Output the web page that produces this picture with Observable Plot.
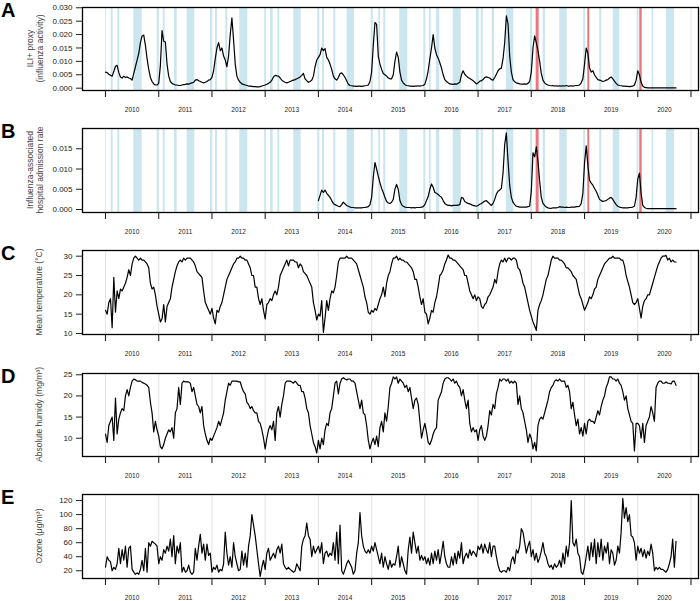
<!DOCTYPE html>
<html><head><meta charset="utf-8">
<script src="https://cdn.jsdelivr.net/npm/d3@7"></script>
<script src="https://cdn.jsdelivr.net/npm/@observablehq/plot@0.6"></script>
<style>
body{margin:0;background:#fff;}
#chart{position:relative;width:700px;height:601px;overflow:hidden;}
#chart svg{position:absolute;left:0;}
</style></head><body><div id="chart"></div>
<script>
// ---- data ----
const SAMPLES_PER_YEAR = 32;   // series sampled every 1/32 year
const seriesStart = 2010;
const admissionStart = 2014;

const yearTicks = [2010,2011,2012,2013,2014,2015,2016,2017,2018,2019,2020,2021];
const yearLabels = ["2010","2011","2012","2013","2014","2015","2016","2017","2018","2019","2020"];

// school holidays (decimal years)
const holidays = [
 [2010.107,2010.143],[2010.231,2010.269],[2010.532,2010.689],
 [2010.971,2011.009],[2011.084,2011.122],[2011.296,2011.347],[2011.535,2011.678],
 [2011.973,2012.010],[2012.067,2012.104],[2012.260,2012.298],[2012.523,2012.673],
 [2012.993,2013.025],[2013.100,2013.150],[2013.237,2013.274],[2013.537,2013.676],
 [2013.988,2014.026],[2014.077,2014.114],[2014.289,2014.327],[2014.541,2014.678],
 [2014.992,2015.029],[2015.134,2015.166],[2015.228,2015.266],[2015.529,2015.679],
 [2015.980,2016.012],[2016.087,2016.119],[2016.218,2016.280],[2016.532,2016.683],
 [2016.970,2017.020],[2017.058,2017.096],[2017.265,2017.308],[2017.533,2017.671],
 [2017.984,2018.022],[2018.223,2018.266],[2018.535,2018.674],
 [2018.985,2019.017],[2019.286,2019.324],[2019.538,2019.662],
 [2019.988,2020.018],[2020.270,2020.300],[2020.539,2020.689]
];
// school closures / early holidays (red)
const closures = [[2018.091,2018.147],[2019.061,2019.098],[2020.038,2020.083]];

const iliValues = [
.0060,.0058,.0052,.0048,.0045,.0062,.0082,.0085,.0058,.0042,
.0038,.0045,.0040,.0042,.0038,.0036,.0030,.0055,.0080,.0105,
.0130,.0170,.0195,.0198,.0160,.0110,.0070,.0040,.0025,.0016,
.0012,.0012,.0018,.0085,.0215,.0175,.0172,.0090,.0045,.0025,
.0018,.0015,.0012,.0012,.0010,.0010,.0012,.0013,.0014,.0016,
.0015,.0018,.0020,.0022,.0030,.0032,.0028,.0025,.0022,.0020,
.0022,.0025,.0030,.0032,.0040,.0065,.0110,.0150,.0170,.0140,
.0150,.0120,.0105,.0080,.0120,.0200,.0262,.0180,.0090,.0045,
.0030,.0022,.0016,.0014,.0012,.0010,.0008,.0008,.0007,.0006,
.0006,.0005,.0005,.0006,.0008,.0010,.0012,.0015,.0018,.0022,
.0030,.0042,.0048,.0046,.0045,.0038,.0030,.0025,.0022,.0020,
.0022,.0025,.0028,.0030,.0032,.0035,.0038,.0042,.0048,.0055,
.0035,.0028,.0022,.0025,.0030,.0045,.0080,.0105,.0115,.0125,
.0150,.0140,.0148,.0115,.0105,.0090,.0070,.0045,.0035,.0030,
.0040,.0055,.0057,.0050,.0040,.0028,.0015,
.0010,.0009,.0008,.0008,.0007,.0008,.0008,.0007,.0008,.0009,
.0010,.0012,.0025,.0060,.0160,.0245,.0238,.0120,.0090,.0070,
.0055,.0050,.0045,.0038,.0035,.0035,.0050,.0100,.0135,.0115,
.0060,.0030,.0020,.0013,.0010,.0009,.0008,.0008,.0007,.0008,
.0008,.0009,.0008,.0009,.0010,.0015,.0035,.0065,.0110,.0150,
.0200,.0150,.0125,.0112,.0095,.0075,.0050,.0032,.0025,.0020,
.0016,.0015,.0014,.0016,.0015,.0018,.0022,.0050,.0065,.0052,
.0045,.0040,.0036,.0032,.0028,.0022,.0016,.0020,.0026,.0028,
.0032,.0040,.0042,.0040,.0038,.0032,.0030,.0040,.0052,.0065,
.0072,.0075,.0110,.0170,.0270,.0240,.0120,.0060,.0032,.0024,
.0020,.0018,.0016,.0015,.0015,.0016,.0015,.0018,.0025,.0060,
.0150,.0195,.0170,.0140,.0100,.0055,.0030,.0020,.0014,.0012,
.0010,.0009,.0010,.0008,.0009,.0008,.0009,.0008,.0009,.0008,
.0010,.0008,.0008,.0009,.0008,.0009,.0010,.0010,.0012,.0020,
.0035,.0090,.0150,.0130,.0075,.0060,.0065,.0050,.0040,.0032,
.0030,.0028,.0025,.0027,.0030,.0032,.0038,.0042,.0035,.0026,
.0018,.0012,.0010,.0009,.0008,.0008,.0007,.0007,.0006,.0007,
.0008,.0012,.0030,.0065,.0050,.0022,.0008,.0003,.0002,
.0001,.0001,.0001,.0001,.0001,.0001,.0001,.0001,.0001,
.0001,.0001,.0001,.0001,.0001,.0001,.0001,.0001,.0001
];

const admissionValues = [
.0022,.0035,.0048,.0042,.0048,.0040,.0035,.0030,.0022,.0015,.0012,.0010,.0008,.0007,.0012,.0018,.0014,.0010,.0008,
.0006,.0005,.0005,.0004,.0004,.0004,.0004,.0004,.0005,.0005,
.0006,.0007,.0012,.0030,.0080,.0116,.0100,.0082,.0066,.0052,
.0042,.0030,.0020,.0016,.0015,.0018,.0025,.0050,.0062,.0050,
.0022,.0012,.0008,.0006,.0005,.0005,.0005,.0004,.0005,.0004,
.0005,.0005,.0005,.0006,.0007,.0012,.0022,.0032,.0050,.0063,
.0055,.0042,.0040,.0037,.0033,.0030,.0022,.0015,.0012,.0010,
.0010,.0009,.0010,.0010,.0010,.0011,.0012,.0030,.0028,.0020,
.0017,.0015,.0014,.0012,.0010,.0009,.0008,.0010,.0013,.0015,
.0018,.0021,.0022,.0018,.0014,.0010,.0015,.0025,.0038,.0045,
.0048,.0052,.0090,.0160,.0189,.0120,.0060,.0030,.0018,.0012,
.0008,.0007,.0006,.0006,.0006,.0006,.0006,.0007,.0008,.0045,
.0140,.0130,.0155,.0120,.0070,.0030,.0015,.0010,.0006,.0004,
.0003,.0003,.0004,.0004,.0004,.0005,.0007,.0006,.0006,.0005,
.0006,.0005,.0005,.0006,.0006,.0006,.0007,.0007,.0008,.0015,
.0040,.0115,.0157,.0110,.0072,.0065,.0060,.0052,.0045,.0035,
.0025,.0022,.0020,.0021,.0022,.0025,.0028,.0030,.0025,.0018,
.0012,.0008,.0006,.0005,.0004,.0004,.0004,.0004,.0005,.0005,
.0006,.0008,.0030,.0075,.0090,.0040,.0010,.0005,.0003,
.0002,.0002,.0002,.0002,.0002,.0002,.0002,.0002,.0002,
.0002,.0002,.0002,.0002,.0002,.0002,.0002,.0002,.0002
];

const temperatureValues = [
16,15,18,19,11.5,24.5,15.5,21,19,21.5,
21,22,23,24.5,26.5,25,28,29.5,30,29.5,
29,29.5,29,29,28.5,28,27,23,21.5,22,
20,17,15,13,13.8,17.5,13,17,18,19,
22,24,26,27.5,28.5,29,28.5,29.5,29,29.5,
29.5,29.5,29,28.5,27.5,26,25.5,25,24.5,21,
18,17,16,15,16.5,14,12.5,16,15.5,17,
18,20,22,24,25,26,27,28,28.5,29.5,
29.5,30,29.5,29.5,29,29,28,27,25,25,
22,22,19,17.5,19,16,13.8,17.5,18,19,
18.5,20,21,20,22,25,26,27,28,29,
27.5,29,29,29,28.5,28.5,27,28,27.5,26,
25.5,25,24,23,22,18,16,13.5,15,14.5,
18.5,10.3,14,18.5,16,19,21,20.5,22,25,
28.5,29.5,29.5,29.5,29.5,30,29.5,
29.5,29.5,29,28.5,28,26.5,25,23.5,22,19.5,
18,15.5,15,16,15.5,16.5,16,17.5,19,20,
22,19.5,23,25,26,28,29.5,29.5,30,29,
29.5,29,29,28.5,28.5,28,27.5,27,26,24,
24,22,19.5,17.5,19,15.5,15,12.5,14,16,
15.5,18,19.5,22,25,25.5,26.5,28,29,30.3,
29.5,29.5,29,29,28.5,28,27.5,27,26.5,25,
25,23,21,20,19,20,18.5,19.5,19,17,
16.5,17.5,18,19.5,20,21,22,24,23,26,
28,29,28.5,29.5,28.5,29.5,29.5,29,29.5,29.5,
29,27,26.5,25,23,22,20,18,16,14.5,
13,12,10.8,16,17.5,18.5,20,22,24,25,
27,29,30,29.5,29.5,29.5,29,29,28.5,28,
27,27,26.5,26,25,24.5,24,22,20,19,
17.5,16,17,18,19.5,19,20,21.5,22,24,
25,26,27,28,28.5,29,29.5,29.5,30,29.5,
29.5,29.5,29.5,29,29,27.5,25,23.5,22,20,
18,17.5,18,19,16.5,14,17,18.5,19,20,
20,21.5,23,24.5,26,27.5,28.5,29.5,30,30,
30.2,29,29.5,28.5,29,28.5,28.5
];

const humidityValues = [
11,9,13,14,15,9.5,19.5,11,14.5,16,
17,16.5,20,21.5,20,22,23.5,24,23.8,23.5,
23.5,23.5,23.2,23,22.8,22.5,22,18.5,16,11.5,
14,12,10.5,8,7.5,8.5,10,11,12,11.5,
12.5,10,16,17,22,18,23,23.5,23.3,23.3,
23.3,23,21,22,20,18,17.5,16,17.5,13,
11,9.5,8.5,10,9.5,10.5,11.5,12.5,14,13,
14.5,16,19,21,23,22.5,23.5,23.5,23.5,23.5,
23.3,23.3,22,21,20.5,18.5,18,17,17.5,16.5,
16,16,14,13.5,12,10,7.5,10,12,13,
12,14,9.5,16,17.5,15,18,20,23,23.5,
23.5,23.5,23.3,23,23.5,23,22.5,22.5,21,21,
19.5,17,16,13,11,9,8,6.5,9.5,7.5,
10,8.5,12,13.5,13,16,17,20,23,23.5,
20.5,23,24,24.3,24,23.8,24,
24,23.5,23.5,23,21,19,17,19,16,15.5,
13,9.5,7.5,9,10,8.5,10.5,8,12.5,14,
11.5,16,14,17.5,22,23,24.5,24,24.5,23,
24,23.5,23,22,22.5,21,22,19.5,17,19,
19.5,18,14,10,12,13.5,11.5,9,8.5,9.5,
11,12,12.5,19,20,21,23,24,24.3,24.3,
24,23.5,24,23,23.5,22.5,22,20,21.5,19,
17,19,13.5,11.5,12.5,11.5,12,9.5,12,13,
10.5,9.5,10.5,13,16.5,15.5,18,17,20.5,22,
24,23.5,24,24,23.5,24,23,23.5,23,23.5,
23,18,20,17,16,14,12,9,11,10,
7.5,9,7,13,14.5,15,14.5,16,17.5,19,
21,22,22.5,23.5,23.8,23.5,24,23.5,23.5,23.5,
22,22.5,21,17,18.5,15.5,13,14.5,11,12.5,
10.5,13.5,11,14,14.5,14,14,13.5,15,16.5,
15.5,17.5,19,20,22,23,24.5,24.5,24,24,
23.5,24,23,22.5,21,19,20,17,15.5,14,
13.5,7,13.5,13.5,13,10,13.5,9,13,14,
15,17.5,16,14,22,23,23.5,23.5,23,23,
23.3,23,23,22.8,23.5,23.5,22.5
];

const ozoneValues = [
25,40,35,33,20,25,22,30,52,30,
50,35,55,25,52,55,22,18,15,17,
15,22,35,20,52,18,60,55,62,60,
58,55,30,40,35,50,45,55,48,65,
40,70,30,55,45,60,18,25,18,20,
28,18,15,18,52,35,55,72,45,58,
35,58,42,45,18,25,22,28,18,22,
20,30,75,45,28,40,25,60,40,30,
20,22,48,28,45,25,55,70,100,85,
70,50,30,12,25,35,22,45,52,35,
40,45,38,50,55,45,58,30,25,22,
25,22,20,18,20,30,25,20,55,65,
70,88,70,65,40,55,45,50,55,45,
60,30,45,48,40,45,42,60,35,75,
30,85,20,15,22,30,35,
30,25,15,20,45,60,103,70,55,48,
45,50,45,55,48,60,50,40,30,45,
25,40,30,22,35,25,30,28,40,55,
25,40,30,20,15,50,68,45,75,60,
45,55,35,42,35,40,30,38,28,45,
30,48,35,50,30,45,62,40,30,25,
25,40,28,45,30,48,38,60,30,40,
45,38,50,42,48,45,40,55,50,58,
45,58,50,45,60,40,55,55,40,28,
20,18,20,20,18,25,20,35,40,30,
50,45,55,80,75,60,45,55,62,40,
50,35,45,32,38,48,60,45,40,30,
25,28,22,30,25,28,35,25,45,30,
55,40,60,120,60,55,65,45,40,18,
15,25,40,55,35,60,40,65,30,60,
40,65,35,55,45,60,30,50,45,28,
35,55,45,75,123,95,110,90,100,70,
68,60,35,55,45,52,40,50,38,48,
42,58,45,20,25,22,25,22,22,20,
18,22,30,40,65,25,62
];

// ---- helpers ----
const toSeries = (values, start) => values.map((v, i) => ({t: start + i / SAMPLES_PER_YEAR, v}));
const FONT = "'Liberation Sans', Arial, Helvetica, sans-serif";
const xDomain = [2009.568, 2021.141];
const MT = 10, MB = 30;

const panels = [
  {letter:"A", top:7, bottom:90, y:[-0.00086,0.0301], ticks:[0,0.005,0.01,0.015,0.02,0.025,0.03], fmt:d3.format(".3f"),
   title:["ILI+ proxy","(influenza activity)"], series:toSeries(iliValues, seriesStart), shade:true},
  {letter:"B", top:128, bottom:212, y:[-0.00074,0.0200], ticks:[0,0.005,0.01,0.015], fmt:d3.format(".3f"),
   title:["Influenza-associated","hospital admission rate"], series:toSeries(admissionValues, admissionStart), shade:true},
  {letter:"C", top:250, bottom:334, y:[9.74,31.47], ticks:[10,15,20,25,30], fmt:d3.format("d"),
   title:["Mean temperature (°C)"], series:toSeries(temperatureValues, seriesStart), shade:false},
  {letter:"D", top:373, bottom:456, y:[5.68,25.3], ticks:[10,15,20,25], fmt:d3.format("d"),
   title:["Absolute humidy (mg/m³)"], series:toSeries(humidityValues, seriesStart), shade:false},
  {letter:"E", top:494, bottom:578, y:[9,128.6], ticks:[20,40,60,80,100,120], fmt:d3.format("d"),
   title:["Ozone (μg/m³)"], series:toSeries(ozoneValues, seriesStart), shade:false}
];

const container = document.getElementById("chart");
for (const p of panels) {
  const h = p.bottom - p.top + MT + MB;
  const marks = [Plot.gridX(yearTicks, {stroke:"#e3e3e3", strokeOpacity:1, strokeWidth:1})];
  if (p.shade) {
    marks.push(Plot.rect(holidays, {x1: d => d[0], x2: d => d[1], fill:"#cbe6ef"}));
    marks.push(Plot.rect(closures, {x1: d => d[0], x2: d => d[1], fill:"#e8777f"}));
  }
  marks.push(
    Plot.line(p.series, {x:"t", y:"v", stroke:"#000", strokeWidth:1.2, strokeLinejoin:"round"}),
    Plot.frame({stroke:"#000", strokeWidth:1.3}),
    Plot.axisX(yearTicks, {tickSize:7, tickFormat:() => "", label:null, strokeWidth:1.1}),
    Plot.axisX(yearLabels.map(s => +s + 0.5), {tickSize:0, tickPadding:17, tickFormat:d => String(Math.floor(d)), label:null, fontSize:6.5}),
    Plot.axisY(p.ticks, {tickSize:6, tickPadding:4, tickFormat:p.fmt, label:null, fontSize:8, strokeWidth:1})
  );
  const svg = Plot.plot({
    width:700, height:h, marginTop:MT, marginBottom:MB, marginLeft:82, marginRight:2,
    x:{domain:xDomain}, y:{domain:p.y},
    style:{fontFamily:FONT, color:"#222", background:"transparent", overflow:"visible"},
    marks
  });
  svg.style.top = (p.top - MT) + "px";
  const s = d3.select(svg);
  const cy = MT + (p.bottom - p.top) / 2;
  const xs = p.title.length === 2 ? [33, 43] : [42];
  p.title.forEach((line, k) => {
    s.append("text").attr("transform", `translate(${xs[k]},${cy}) rotate(-90)`)
      .attr("text-anchor","middle").attr("fill","#444")
      .style("font-family", FONT).style("font-size","8.5px").text(line);
  });
  s.append("text").attr("x", 1).attr("y", MT + 10).attr("text-anchor","start")
    .style("font-family", FONT).style("font-size","20px").style("font-weight","bold")
    .attr("fill","#000").text(p.letter);
  container.appendChild(svg);
}
</script></body></html>
